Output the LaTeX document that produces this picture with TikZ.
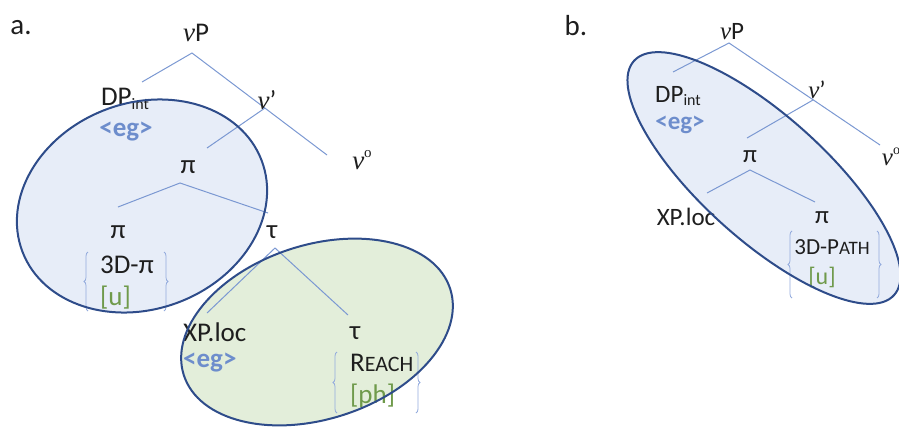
\documentclass[tikz,border=0pt]{standalone}
\usepackage{fontspec}
\setmainfont{Carlito}
\newfontfamily\nufont{Liberation Serif}
\usetikzlibrary{decorations.pathreplacing}
\definecolor{treeline}{HTML}{7B98D2}
\definecolor{ellborder}{HTML}{2E4C8A}
\definecolor{bluefill}{HTML}{E7EDF8}
\definecolor{greenfill}{HTML}{E3EEDA}
\definecolor{egblue}{HTML}{6D8DCC}
\definecolor{featgreen}{HTML}{6F9A4B}
\definecolor{bracecol}{HTML}{93ABDD}
\definecolor{txt}{HTML}{1E1E1E}
\newcommand{\nuit}{{\nufont\itshape ν}}
\newcommand{\subint}{\raisebox{-0.15em}{\fontsize{16}{16}\selectfont int}}
\begin{document}
\begin{tikzpicture}[x=1pt,y=-1pt,
  lbl/.style={inner sep=0pt, text=txt, font=\fontsize{27}{29}\selectfont},
  lblb/.style={inner sep=0pt, text=txt, font=\fontsize{25}{27}\selectfont},
  panel/.style={inner sep=0pt, text=txt, font=\fontsize{29}{30}\selectfont},
  egtag/.style={inner sep=0pt, text=egblue, font=\bfseries\fontsize{27}{29}\selectfont},
  egtagb/.style={inner sep=0pt, text=egblue, font=\bfseries\fontsize{25}{27}\selectfont},
  feat/.style={inner sep=0pt, text=featgreen, font=\fontsize{27}{29}\selectfont},
  featb/.style={inner sep=0pt, text=featgreen, font=\fontsize{24}{26}\selectfont},
  tline/.style={draw=treeline, line width=1pt},
  ellb/.style={draw=ellborder, line width=2pt},
  bracedraw/.style={draw=bracecol, line width=0.8pt, decorate, decoration={brace, amplitude=4pt}},
]
\useasboundingbox (0,0) rectangle (899,426);
\clip (0,0) rectangle (899,426);

% ellipse fills
\fill[bluefill, rotate around={20.9:(142,206)}] (142,206) ellipse [x radius=128, y radius=103];
\fill[greenfill, rotate around={18:(317,332)}] (317,332) ellipse [x radius=140, y radius=87];
\fill[bluefill, rotate around={-42:(764,178)}] (764,178) ellipse [x radius=175, y radius=62];

% ---------- panel a ----------
\node[panel] (la) at (21,28) {a.};
\node[lbl] (avP) at (196,33) {\nuit P};
\coordinate (a1) at (192,53);
\coordinate (a1l) at (142,82);
\coordinate (a1r) at (327,155);
\draw[tline] (a1l) -- (a1) -- (a1r);
\node[lbl] (aDP) at (125,99) {DP\subint};
\node[egtag] (aeg1) at (126,132) {<eg>};
\node[lbl] (avbar) at (267,100) {\nuit’};
\coordinate (a2) at (265,108);
\coordinate (a2l) at (207,148);
\draw[tline] (a2) -- (a2l);
\node[lbl] (avo) at (362,160) {\nuit\raisebox{0.45em}{\fontsize{15}{15}\selectfont\nufont o}};
\node[lbl] (api) at (188,167) {π};
\coordinate (a3) at (180,183);
\coordinate (a3l) at (118,207);
\coordinate (a3r) at (268,213);
\draw[tline] (a3l) -- (a3) -- (a3r);
\node[lbl] (api2) at (118,232) {π};
\node[lbl, anchor=west] (a3d) at (100,265) {3D-π};
\node[feat, anchor=west] (au) at (100,298) {[u]};
\draw[bracedraw] (88,311) -- (88,252);
\draw[bracedraw] (164,252) -- (164,311);
\node[lbl] (atau) at (272,232) {τ};
\coordinate (a4) at (275,248);
\coordinate (a4l) at (207,313);
\coordinate (a4r) at (348,315);
\draw[tline] (a4l) -- (a4) -- (a4r);
\node[lbl, anchor=west] (axp) at (183,332) {XP.loc};
\node[egtag, anchor=west] (aeg2) at (183,363) {<eg>};
\node[lbl] (atau2) at (355,333) {τ};
\node[lbl, anchor=west] (areach) at (350,363) {R{\fontsize{22}{23}\selectfont EACH}};
\node[feat, anchor=west] (aph) at (350,396) {[ph]};
\draw[bracedraw] (337,413) -- (337,352);
\draw[bracedraw] (416,352) -- (416,413);

% ---------- panel b ----------
\node[panel] (lb) at (576,26) {b.};
\node[lblb] (bvP) at (732,32) {\nuit P};
\coordinate (b1) at (729,43);
\coordinate (b1l) at (673,72);
\coordinate (b1r) at (880,145);
\draw[tline] (b1l) -- (b1) -- (b1r);
\node[lblb] (bDP) at (678,96) {DP\subint};
\node[egtagb] (beg) at (680,125) {<eg>};
\node[lblb] (bvbar) at (817,90) {\nuit’};
\coordinate (b2) at (813,100);
\coordinate (b2l) at (747,138);
\draw[tline] (b2) -- (b2l);
\node[lblb] (bvo) at (891,157) {\nuit\raisebox{0.45em}{\fontsize{14}{14}\selectfont\nufont o}};
\node[lblb] (bpi) at (750,157) {π};
\coordinate (b3) at (750,170);
\coordinate (b3l) at (707,193);
\coordinate (b3r) at (815,202);
\draw[tline] (b3l) -- (b3) -- (b3r);
\node[lblb] (bxp) at (686,217) {XP.loc};
\node[lblb] (bpi2) at (822,218) {π};
\node[lblb, font=\fontsize{23}{25}\selectfont] (b3d) at (832,247) {3D-P{\fontsize{19}{21}\selectfont ATH}};
\node[featb] (bu) at (822,277) {[u]};
\draw[bracedraw] (792,298) -- (792,231);
\draw[bracedraw] (877,231) -- (877,298);

% ellipse borders
\draw[ellb, rotate around={20.9:(142,206)}] (142,206) ellipse [x radius=128, y radius=103];
\draw[ellb, rotate around={18:(317,332)}] (317,332) ellipse [x radius=140, y radius=87];
\draw[ellb, rotate around={-42:(764,178)}] (764,178) ellipse [x radius=175, y radius=62];
\end{tikzpicture}
\end{document}
